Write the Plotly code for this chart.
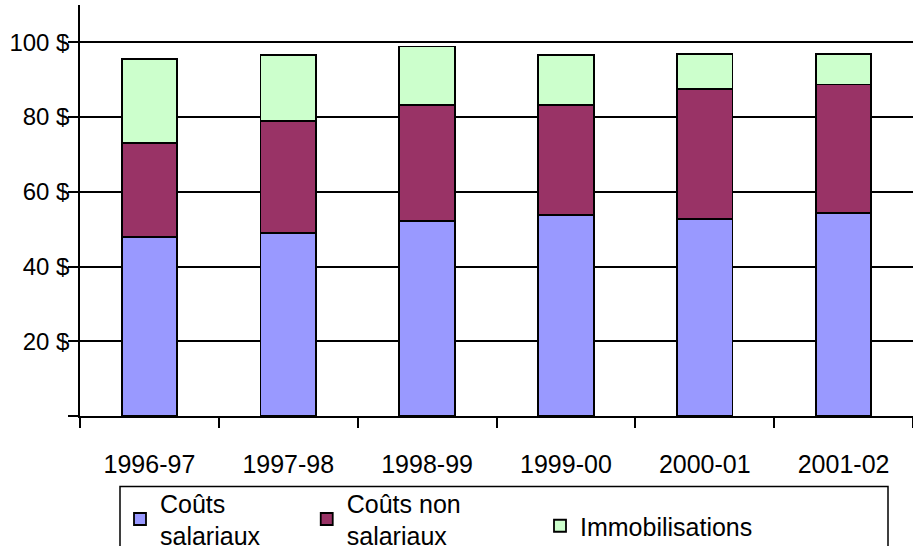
import plotly.graph_objects as go

categories = ["1996-97", "1997-98", "1998-99", "1999-00", "2000-01", "2001-02"]
couts_salariaux = [48.0, 49.0, 52.2, 53.8, 52.7, 54.3]
couts_non_salariaux = [25.0, 30.0, 31.0, 29.4, 34.9, 34.4]
immobilisations = [22.6, 17.7, 15.7, 13.5, 9.2, 8.1]

NB = "\u00a0"
series_names = ["Coûts<br>salariaux" + NB * 6, "Coûts non<br>salariaux", "Immobilisations"]
series_values = [couts_salariaux, couts_non_salariaux, immobilisations]
series_colors = ["#9999FF", "#993366", "#CCFFCC"]
series_legends = ["legend", "legend", "legend2"]

y_tick_values = [0, 20, 40, 60, 80, 100]
y_tick_labels = ["", "20 $", "40 $", "60 $", "80 $", "100 $"]

FONT = "Liberation Sans, Arial, sans-serif"

fig = go.Figure()
for name, vals, col, leg in zip(series_names, series_values, series_colors, series_legends):
    fig.add_trace(go.Bar(
        x=categories, y=vals, name=name, legend=leg,
        marker=dict(color=col, line=dict(color="black", width=1.8)),
        width=0.4,
    ))

W, H = 913, 546
ml, mr, mt, mb = 80, 0, 5, 130
pw = W - ml - mr
ph = H - mt - mb

def px_x(px):
    return (px - ml) / pw

def px_y(py):
    return (H - mb - py) / ph

legend_common = dict(
    orientation="h",
    xanchor="left", yanchor="top",
    font=dict(family=FONT, size=25, color="black"),
    bgcolor="rgba(0,0,0,0)",
    borderwidth=0,
    traceorder="normal",
    valign="middle",
)

fig.update_layout(
    width=W, height=H,
    margin=dict(l=ml, r=mr, t=mt, b=mb, pad=0, autoexpand=False),
    paper_bgcolor="white", plot_bgcolor="white",
    barmode="stack",
    font=dict(family=FONT, size=25, color="black"),
    showlegend=True,
    legend=dict(legend_common, x=px_x(120), y=px_y(480)),
    legend2=dict(legend_common, x=px_x(540), y=px_y(503)),
    xaxis=dict(
        type="category",
        range=[-0.5, 5.5],
        showline=True, linecolor="black", linewidth=1.5,
        ticks="outside", ticklen=10, tickwidth=1.5, tickcolor="black",
        tickson="boundaries",
        showgrid=False,
        ticklabelstandoff=25,
        tickfont=dict(family=FONT, size=25, color="black"),
        fixedrange=True,
    ),
    yaxis=dict(
        range=[0, 110],
        tickvals=y_tick_values, ticktext=y_tick_labels,
        showline=True, linecolor="black", linewidth=1.5,
        ticks="outside", ticklen=10, tickwidth=1.5, tickcolor="black",
        showgrid=True, gridcolor="black", gridwidth=1.5,
        zeroline=False,
        ticklabelstandoff=-6,
        tickfont=dict(family=FONT, size=24, color="black"),
        fixedrange=True,
    ),
    shapes=[dict(
        type="rect", xref="paper", yref="paper",
        x0=px_x(120), x1=px_x(888), y0=px_y(570), y1=px_y(486.5),
        line=dict(color="black", width=1.5), fillcolor="rgba(0,0,0,0)",
        layer="above",
    )],
)

fig.write_html("out.html", config={"displayModeBar": False},
               post_script="document.body.style.margin='0';")
